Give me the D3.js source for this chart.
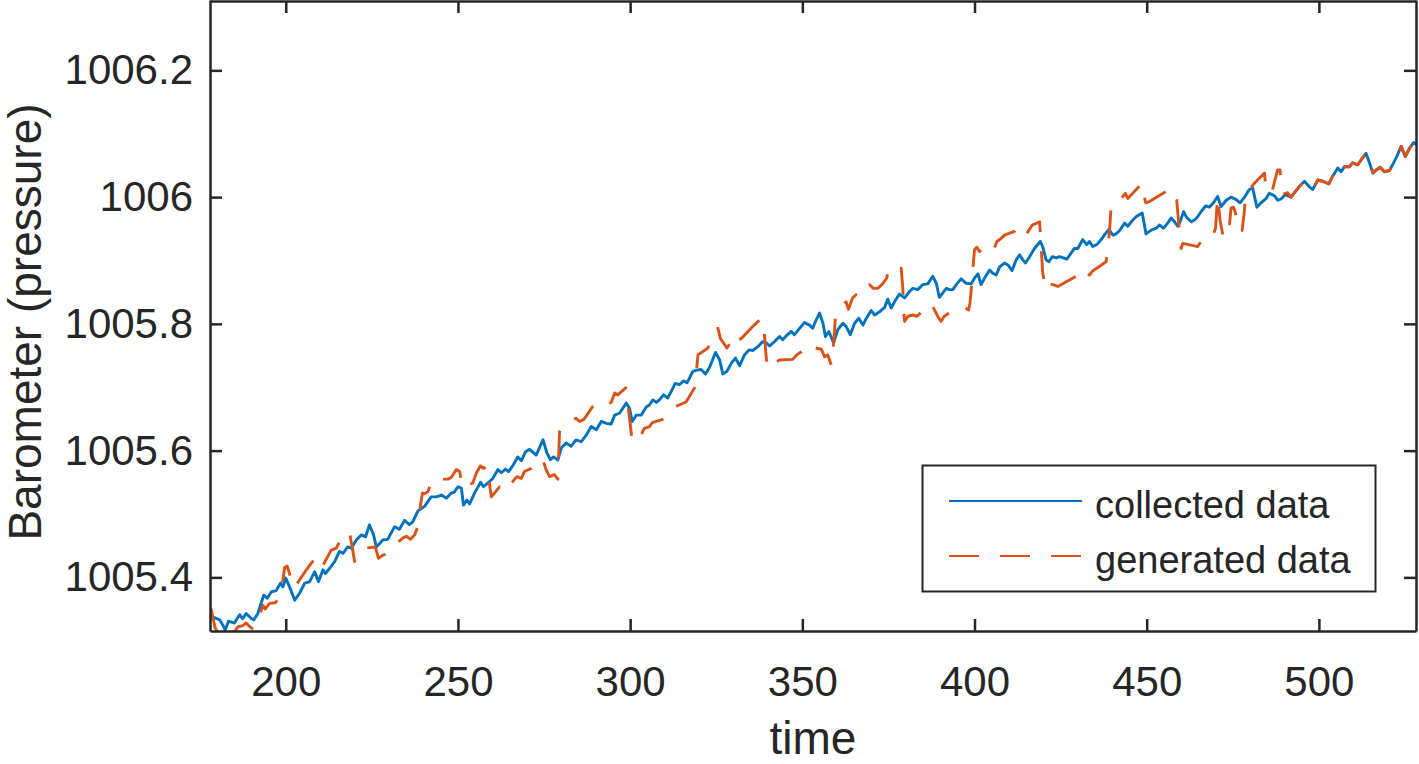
<!DOCTYPE html>
<html>
<head>
<meta charset="utf-8">
<script src="https://cdn.jsdelivr.net/npm/d3@7"></script>
<style>
  body { margin: 0; background: #fff; }
  svg { display: block; }
  text { font-family: "Liberation Sans", Arial, sans-serif; fill: #262626; }
</style>
</head>
<body>
<svg id="chart" width="1419" height="764"></svg>
<script>
// values: [time, pressure]
const collected = [[178.2,1005.336],[179.1,1005.337],[180.8,1005.333],[181.7,1005.325],[182.4,1005.317],[183.4,1005.331],[185.1,1005.328],[186.6,1005.341],[187.5,1005.335],[188.5,1005.343],[190.0,1005.335],[190.7,1005.333],[191.9,1005.343],[193.6,1005.372],[194.6,1005.367],[195.8,1005.377],[197.2,1005.379],[198.5,1005.391],[199.2,1005.385],[200.0,1005.399],[201.1,1005.385],[202.6,1005.364],[204.0,1005.375],[205.5,1005.391],[206.9,1005.393],[208.4,1005.409],[209.5,1005.393],[210.8,1005.412],[211.5,1005.406],[212.7,1005.414],[214.2,1005.425],[215.6,1005.441],[216.6,1005.438],[218.0,1005.448],[219.0,1005.446],[220.5,1005.459],[221.9,1005.467],[223.2,1005.464],[224.3,1005.483],[225.5,1005.467],[226.3,1005.448],[228.2,1005.459],[229.6,1005.460],[231.6,1005.480],[233.0,1005.476],[234.5,1005.490],[235.9,1005.483],[236.9,1005.488],[238.4,1005.505],[240.3,1005.512],[242.2,1005.527],[243.7,1005.527],[245.2,1005.530],[246.6,1005.525],[248.1,1005.533],[249.0,1005.535],[250.0,1005.543],[251.0,1005.541],[251.6,1005.514],[252.6,1005.522],[253.4,1005.516],[254.8,1005.533],[256.6,1005.550],[257.4,1005.543],[258.7,1005.549],[260.1,1005.556],[261.6,1005.570],[262.6,1005.565],[263.8,1005.571],[264.7,1005.567],[265.9,1005.576],[267.4,1005.590],[268.4,1005.584],[269.6,1005.598],[270.8,1005.602],[272.7,1005.593],[274.7,1005.617],[275.8,1005.597],[276.8,1005.586],[277.8,1005.590],[279.0,1005.585],[280.0,1005.604],[281.4,1005.612],[282.9,1005.607],[284.3,1005.617],[285.8,1005.614],[287.3,1005.625],[288.7,1005.638],[290.2,1005.633],[291.6,1005.646],[293.1,1005.643],[294.5,1005.642],[295.5,1005.656],[296.9,1005.659],[297.9,1005.667],[298.9,1005.675],[299.8,1005.667],[300.6,1005.646],[301.8,1005.656],[303.2,1005.656],[304.7,1005.669],[305.6,1005.672],[306.6,1005.680],[307.6,1005.676],[308.5,1005.680],[309.7,1005.688],[310.9,1005.683],[311.9,1005.693],[313.1,1005.706],[314.3,1005.704],[315.5,1005.710],[316.5,1005.707],[317.2,1005.714],[318.2,1005.725],[319.4,1005.727],[320.6,1005.728],[321.9,1005.721],[323.1,1005.732],[324.8,1005.755],[326.0,1005.743],[326.9,1005.721],[328.1,1005.725],[329.4,1005.738],[330.6,1005.746],[331.8,1005.734],[333.2,1005.751],[334.5,1005.759],[335.6,1005.758],[337.1,1005.764],[338.5,1005.772],[339.5,1005.770],[340.5,1005.765],[341.9,1005.772],[343.4,1005.780],[344.3,1005.775],[345.3,1005.781],[346.8,1005.788],[347.7,1005.783],[349.2,1005.793],[350.6,1005.802],[352.1,1005.798],[353.0,1005.793],[354.0,1005.806],[355.0,1005.817],[356.0,1005.801],[356.7,1005.780],[357.7,1005.788],[359.1,1005.770],[360.3,1005.791],[361.8,1005.801],[362.7,1005.796],[363.9,1005.783],[365.2,1005.801],[366.4,1005.809],[367.6,1005.798],[368.6,1005.809],[370.0,1005.821],[371.0,1005.814],[372.4,1005.819],[373.9,1005.826],[374.8,1005.839],[375.8,1005.825],[377.1,1005.838],[378.2,1005.847],[379.7,1005.841],[381.1,1005.851],[382.1,1005.856],[383.5,1005.854],[385.0,1005.862],[386.4,1005.863],[387.9,1005.875],[388.9,1005.864],[389.8,1005.842],[390.8,1005.849],[391.8,1005.856],[392.7,1005.854],[393.7,1005.854],[394.7,1005.862],[396.1,1005.871],[397.6,1005.864],[399.0,1005.863],[400.0,1005.872],[401.0,1005.879],[401.9,1005.862],[402.9,1005.872],[404.4,1005.885],[405.3,1005.880],[406.3,1005.877],[407.3,1005.890],[408.7,1005.896],[409.7,1005.893],[410.9,1005.884],[412.1,1005.901],[413.1,1005.909],[414.0,1005.901],[414.8,1005.896],[416.0,1005.906],[417.4,1005.919],[419.1,1005.930],[419.8,1005.922],[420.8,1005.901],[421.6,1005.898],[422.6,1005.906],[423.7,1005.904],[424.7,1005.906],[425.8,1005.904],[426.8,1005.902],[428.1,1005.912],[429.0,1005.919],[430.0,1005.919],[431.4,1005.933],[432.6,1005.925],[433.4,1005.930],[434.3,1005.922],[435.5,1005.925],[436.8,1005.933],[437.7,1005.940],[439.0,1005.949],[440.2,1005.940],[441.1,1005.942],[442.1,1005.947],[443.6,1005.959],[444.5,1005.954],[446.0,1005.964],[446.9,1005.969],[448.7,1005.975],[449.8,1005.942],[451.3,1005.948],[452.8,1005.951],[453.7,1005.956],[454.9,1005.951],[456.1,1005.959],[457.1,1005.967],[458.1,1005.961],[459.0,1005.954],[459.7,1005.961],[460.7,1005.977],[461.6,1005.968],[462.9,1005.961],[463.9,1005.964],[464.8,1005.969],[465.8,1005.977],[467.1,1005.986],[468.2,1005.984],[469.4,1005.991],[470.6,1006.001],[471.6,1005.985],[473.1,1005.995],[474.5,1006.000],[476.0,1005.996],[477.1,1005.991],[478.4,1006.000],[479.8,1006.012],[480.8,1006.014],[482.0,1005.984],[483.2,1005.991],[484.7,1005.998],[485.6,1006.006],[487.1,1006.002],[488.1,1005.995],[489.0,1005.997],[490.3,1006.004],[491.9,1006.000],[493.2,1006.009],[494.4,1006.017],[495.8,1006.025],[497.1,1006.017],[498.2,1006.012],[499.7,1006.027],[501.1,1006.025],[502.9,1006.021],[504.0,1006.033],[505.5,1006.046],[506.5,1006.040],[507.4,1006.048],[508.9,1006.048],[509.8,1006.054],[511.3,1006.051],[512.3,1006.059],[513.7,1006.069],[514.7,1006.054],[515.7,1006.038],[516.7,1006.043],[517.8,1006.047],[519.0,1006.040],[520.5,1006.042],[521.7,1006.054],[522.6,1006.064],[523.9,1006.080],[525.1,1006.064],[526.3,1006.077],[527.5,1006.086],[528.4,1006.083]];

const generated = [[178.3,1005.351],[179.5,1005.320],[181.0,1005.306],[182.4,1005.300],[183.7,1005.312],[185.1,1005.314],[186.1,1005.322],[187.5,1005.324],[188.5,1005.328],[190.0,1005.320],[190.7,1005.318],[191.4,1005.325],[193.4,1005.356],[194.0,1005.350],[195.3,1005.359],[197.0,1005.360],[197.9,1005.367],[198.7,1005.377],[199.7,1005.416],[200.4,1005.418],[201.1,1005.406],[201.8,1005.391],[202.4,1005.383],[206.0,1005.412],[207.2,1005.421],[208.4,1005.429],[209.3,1005.416],[210.3,1005.414],[213.2,1005.443],[214.7,1005.446],[215.6,1005.456],[217.1,1005.464],[218.5,1005.472],[220.0,1005.425],[221.1,1005.441],[222.7,1005.446],[226.0,1005.448],[226.9,1005.430],[228.2,1005.435],[229.5,1005.437],[230.4,1005.446],[234.0,1005.462],[235.0,1005.465],[236.2,1005.460],[237.4,1005.467],[238.6,1005.483],[239.2,1005.517],[239.7,1005.533],[240.3,1005.532],[241.3,1005.535],[242.5,1005.555],[247.1,1005.555],[248.1,1005.558],[249.5,1005.570],[250.5,1005.567],[251.4,1005.541],[254.3,1005.549],[255.3,1005.564],[256.5,1005.576],[257.4,1005.572],[258.7,1005.576],[259.2,1005.546],[259.7,1005.527],[260.9,1005.535],[262.1,1005.543],[263.1,1005.535],[265.9,1005.551],[267.1,1005.559],[268.4,1005.556],[269.3,1005.567],[271.3,1005.572],[274.5,1005.588],[275.6,1005.570],[276.6,1005.559],[278.0,1005.562],[279.0,1005.555],[279.5,1005.630],[280.5,1005.641],[284.3,1005.651],[285.3,1005.646],[286.5,1005.649],[288.2,1005.662],[289.0,1005.669],[291.1,1005.676],[292.1,1005.680],[293.5,1005.674],[294.5,1005.676],[295.5,1005.691],[296.4,1005.688],[298.7,1005.699],[299.9,1005.648],[300.6,1005.614],[301.8,1005.623],[303.2,1005.625],[304.1,1005.635],[305.6,1005.638],[306.4,1005.644],[310.3,1005.651],[311.4,1005.662],[312.6,1005.669],[313.8,1005.671],[315.1,1005.674],[316.3,1005.677],[318.8,1005.700],[319.7,1005.751],[322.6,1005.762],[323.6,1005.775],[324.8,1005.792],[325.5,1005.793],[326.2,1005.777],[328.1,1005.762],[329.1,1005.770],[330.3,1005.783],[331.3,1005.774],[332.3,1005.777],[335.6,1005.796],[336.8,1005.802],[338.1,1005.809],[338.5,1005.804],[339.0,1005.783],[339.5,1005.748],[340.0,1005.729],[341.3,1005.734],[342.4,1005.740],[343.4,1005.743],[347.2,1005.744],[348.4,1005.751],[349.7,1005.756],[350.9,1005.762],[352.1,1005.755],[353.8,1005.762],[355.5,1005.760],[356.5,1005.748],[357.4,1005.751],[358.4,1005.735],[359.1,1005.770],[359.7,1005.819],[362.7,1005.835],[363.4,1005.823],[364.6,1005.841],[365.6,1005.846],[366.6,1005.842],[369.5,1005.862],[370.6,1005.856],[371.9,1005.856],[373.3,1005.863],[374.5,1005.872],[374.9,1005.883],[377.3,1005.880],[378.0,1005.889],[378.7,1005.888],[379.2,1005.854],[379.4,1005.822],[379.7,1005.804],[380.7,1005.812],[382.1,1005.814],[383.3,1005.812],[387.4,1005.833],[388.3,1005.823],[389.3,1005.812],[390.3,1005.804],[391.2,1005.812],[395.6,1005.828],[397.1,1005.826],[398.3,1005.822],[398.7,1005.833],[399.0,1005.851],[399.5,1005.885],[400.0,1005.917],[400.7,1005.921],[401.5,1005.914],[403.6,1005.928],[404.9,1005.925],[405.8,1005.920],[406.5,1005.930],[407.8,1005.935],[408.7,1005.940],[411.6,1005.946],[412.6,1005.953],[413.9,1005.942],[414.9,1005.940],[415.8,1005.948],[416.8,1005.956],[418.9,1005.961],[419.4,1005.917],[419.8,1005.880],[420.8,1005.854],[421.6,1005.863],[422.8,1005.862],[424.2,1005.859],[428.5,1005.872],[429.5,1005.875],[430.7,1005.883],[431.6,1005.888],[432.6,1005.880],[433.4,1005.877],[434.2,1005.883],[438.2,1005.898],[438.7,1005.922],[439.2,1005.946],[439.6,1005.980],[440.0,1005.991],[440.9,1005.991],[442.1,1005.996],[443.1,1006.001],[443.8,1006.006],[444.5,1005.998],[448.7,1006.022],[449.1,1006.006],[449.7,1005.991],[450.8,1005.993],[452.0,1005.997],[455.7,1006.009],[457.0,1006.014],[457.9,1006.007],[458.7,1005.996],[459.0,1005.977],[459.5,1005.946],[460.0,1005.919],[460.5,1005.927],[464.8,1005.922],[465.8,1005.930],[466.8,1005.937],[468.2,1005.935],[469.2,1005.939],[470.0,1005.951],[470.6,1006.001],[471.3,1005.964],[472.3,1005.935],[473.1,1005.938],[474.0,1005.954],[474.5,1005.983],[475.2,1005.984],[475.8,1005.975],[476.2,1005.951],[476.8,1005.946],[477.7,1005.947],[478.4,1005.980],[478.7,1006.004],[479.4,1006.013],[480.4,1006.016],[481.3,1006.022],[484.2,1006.038],[484.7,1006.009],[485.7,1006.006],[486.4,1006.009],[488.0,1006.043],[488.7,1006.043],[489.3,1006.007],[490.0,1006.005],[490.9,1006.007],[491.9,1006.000],[493.2,1006.009],[494.4,1006.017],[495.8,1006.025],[497.1,1006.017],[498.2,1006.012],[499.7,1006.027],[501.1,1006.025],[502.9,1006.021],[504.0,1006.033],[505.5,1006.046],[506.5,1006.040],[507.4,1006.048],[508.9,1006.048],[509.8,1006.054],[511.3,1006.051],[512.3,1006.059],[513.7,1006.069],[514.7,1006.054],[515.7,1006.038],[516.7,1006.043],[517.8,1006.047],[519.0,1006.040],[520.5,1006.042],[521.7,1006.054],[522.6,1006.064],[523.9,1006.080],[525.1,1006.064],[526.3,1006.077],[527.5,1006.086],[528.4,1006.083]];

const xTicks = [200, 250, 300, 350, 400, 450, 500];
const xTickLabels = ['200', '250', '300', '350', '400', '450', '500'];
const yTicks = [1005.4, 1005.6, 1005.8, 1006, 1006.2];
const yTickLabels = ['1005.4', '1005.6', '1005.8', '1006', '1006.2'];
const seriesNames = ['collected data', 'generated data'];

const axisColor = '#262626';
const blue = '#0072BD', orange = '#D95319';

const svg = d3.select('#chart');

const xScale = d3.scaleLinear().domain([178, 528.2]).range([210, 1416]);
const yScale = d3.scaleLinear().domain([1005.3154, 1006.311]).range([631, 0]);

// clip the lines to the axes box
svg.append('clipPath').attr('id', 'plotClip')
  .append('rect').attr('x', 210).attr('y', 0).attr('width', 1206).attr('height', 631);

const line = d3.line()
  .x(d => xScale(d[0]))
  .y(d => yScale(d[1]));

const plot = svg.append('g').attr('clip-path', 'url(#plotClip)');

plot.append('path')
  .datum(collected)
  .attr('fill', 'none')
  .attr('stroke', blue)
  .attr('stroke-width', 2.9)
  .attr('stroke-linejoin', 'round')
  .attr('d', line);

plot.append('path')
  .datum(generated)
  .attr('fill', 'none')
  .attr('stroke', orange)
  .attr('stroke-width', 2.9)
  .attr('stroke-linejoin', 'round')
  .attr('stroke-dasharray', '28,19')
  .attr('d', line);

// axes, ticks pointing inward like matlab
function styleAxis(g, fontSize) {
  g.attr('font-family', '"Liberation Sans", Arial, sans-serif').attr('font-size', fontSize);
  g.select('.domain').attr('stroke', axisColor).attr('stroke-width', 2.5);
  g.selectAll('.tick line').attr('stroke', axisColor).attr('stroke-width', 2.5);
  g.selectAll('.tick text').attr('fill', axisColor);
}

svg.append('g')
  .attr('transform', 'translate(0,631)')
  .call(d3.axisBottom(xScale).tickValues(xTicks).tickFormat((d, i) => xTickLabels[i])
    .tickSizeInner(-12).tickSizeOuter(0).tickPadding(35))
  .call(g => styleAxis(g, 42));

svg.append('g')
  .attr('transform', 'translate(0,1)')
  .call(d3.axisTop(xScale).tickValues(xTicks).tickFormat('')
    .tickSizeInner(-12).tickSizeOuter(0))
  .call(g => styleAxis(g, 42));

svg.append('g')
  .attr('transform', 'translate(210,0)')
  .call(d3.axisLeft(yScale).tickValues(yTicks).tickFormat((d, i) => yTickLabels[i])
    .tickSizeInner(-12).tickSizeOuter(0).tickPadding(17))
  .call(g => styleAxis(g, 42));

svg.append('g')
  .attr('transform', 'translate(1416,0)')
  .call(d3.axisRight(yScale).tickValues(yTicks).tickFormat('')
    .tickSizeInner(-12).tickSizeOuter(0))
  .call(g => styleAxis(g, 42));

// axis titles
svg.append('text')
  .attr('x', 813).attr('y', 754)
  .attr('text-anchor', 'middle')
  .attr('font-size', 46)
  .text('time');

svg.append('text')
  .attr('transform', 'translate(41,322) rotate(-90)')
  .attr('text-anchor', 'middle')
  .attr('font-size', 46)
  .text('Barometer (pressure)');

// legend
const legend = svg.append('g');
legend.append('rect')
  .attr('x', 922.5).attr('y', 465.5).attr('width', 453).attr('height', 126)
  .attr('fill', '#fff').attr('stroke', axisColor).attr('stroke-width', 2);

const legendRows = [
  { name: seriesNames[0], color: blue, dash: null, y: 501 },
  { name: seriesNames[1], color: orange, dash: '30,21', y: 556 }
];

legend.selectAll('line.key')
  .data(legendRows)
  .enter().append('line')
  .attr('class', 'key')
  .attr('x1', 949).attr('x2', 1082)
  .attr('y1', d => d.y).attr('y2', d => d.y)
  .attr('stroke', d => d.color)
  .attr('stroke-width', 2.2)
  .attr('stroke-dasharray', d => d.dash);

legend.selectAll('text.key')
  .data(legendRows)
  .enter().append('text')
  .attr('class', 'key')
  .attr('x', 1095)
  .attr('y', d => d.y + 17)
  .attr('font-size', 38)
  .text(d => d.name);
</script>
</body>
</html>
